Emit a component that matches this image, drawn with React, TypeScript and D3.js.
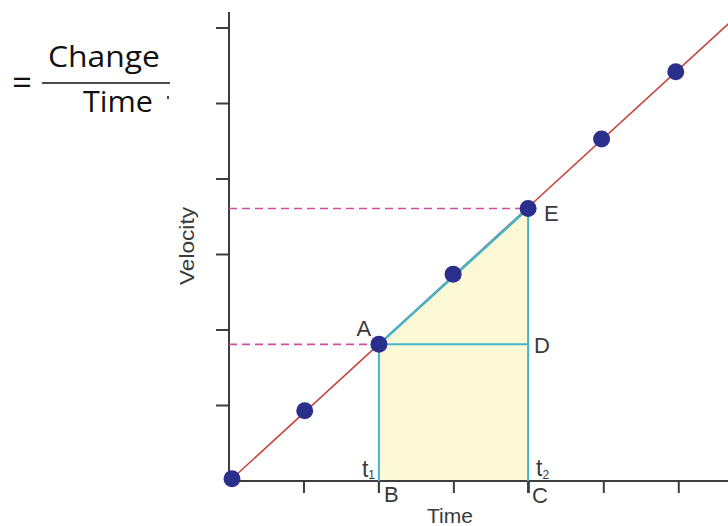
import React from "react";
import * as d3 from "d3";

// ---- data ----
const pointTimes = [0.04, 1.01, 2.0, 2.99, 3.99, 4.97, 5.96];
const pointVelocities = [0.03, 0.93, 1.81, 2.74, 3.61, 4.53, 5.42];
const lineTimes = [0.04, 6.72];
const lineVelocities = [0.03, 6.11];
const xTicks = [1, 2, 3, 4, 5, 6];
const yTicks = [1, 2, 3, 4, 5, 6];
const t1 = 2.0;
const t2 = 3.99;
const vA = 1.81;
const vE = 3.61;
const pointLabels = ["A", "E", "D", "B", "C"];
const axisTitles = ["Time", "Velocity"];
const formulaTexts = ["=", "Change", "Time"];

const W = 728;
const H = 526;

export default function App() {
  const x = d3.scaleLinear().domain([0, 6.67]).range([229, 729]);
  const y = d3.scaleLinear().domain([0, 6.2]).range([481, 481 - 6.2 * 75.5]);

  const pts = pointTimes.map((t, i) => ({ t, v: pointVelocities[i] }));
  const lineData = lineTimes.map((t, i) => ({ t, v: lineVelocities[i] }));
  const lineGen = d3
    .line<{ t: number; v: number }>()
    .x((d) => x(d.t))
    .y((d) => y(d.v));

  const areaPoly = [
    { t: t1, v: 0 },
    { t: t1, v: vA },
    { t: t2, v: vE },
    { t: t2, v: 0 },
  ];
  const polyGen = d3
    .line<{ t: number; v: number }>()
    .x((d) => x(d.t))
    .y((d) => y(d.v))
    .curve(d3.curveLinearClosed);

  const axisColor = "#3d3d3d";
  const cyan = "#45b4c8";
  const magenta = "#cf4f9e";
  const red = "#c4463e";
  const dot = "#2b2f8c";
  const fill = "#fdf9d7";
  const labelColor = "#3a3a3a";
  const sans = "'Liberation Sans', Arial, sans-serif";
  const formulaFont = "'Open Sans', 'Noto Sans', sans-serif";

  return (
    <svg
      width={W}
      height={H}
      style={{ position: "absolute", left: 0, top: 0, background: "#fff" }}
    >
      <defs>
        <clipPath id="plotClip">
          <rect x={0} y={0} width={W} height={H} />
        </clipPath>
      </defs>

      {/* formula fragment */}
      <text x={22} y={95} fontFamily={formulaFont} fontSize={34} textAnchor="middle" fill="#111" textLength={20} lengthAdjust="spacingAndGlyphs">
        {formulaTexts[0]}
      </text>
      <text x={48} y={67} fontFamily={formulaFont} fontSize={29} fill="#111" textLength={112} lengthAdjust="spacingAndGlyphs">
        {formulaTexts[1]}
      </text>
      <line x1={42} x2={170} y1={83} y2={83} stroke="#111" strokeWidth={1.6} />
      <text x={83} y={112} fontFamily={formulaFont} fontSize={29} fill="#111" textLength={70} lengthAdjust="spacingAndGlyphs">
        {formulaTexts[2]}
      </text>
      <rect x={167} y={96} width={2} height={3} fill="#444" />

      {/* filled region */}
      <path d={polyGen(areaPoly) || ""} fill={fill} stroke="none" />

      {/* axes */}
      <line x1={x(0)} x2={x(0)} y1={12} y2={y(0) + 1} stroke={axisColor} strokeWidth={2} />
      <line x1={x(0)} x2={W} y1={y(0)} y2={y(0)} stroke={axisColor} strokeWidth={2} />
      {yTicks.map((v) => (
        <line key={"yt" + v} x1={x(0) - 13} x2={x(0)} y1={y(v)} y2={y(v)} stroke={axisColor} strokeWidth={2} />
      ))}
      {xTicks.map((t) => (
        <line key={"xt" + t} x1={x(t)} x2={x(t)} y1={y(0)} y2={y(0) + 12} stroke={axisColor} strokeWidth={2} />
      ))}

      {/* dashed projections */}
      <line x1={x(0)} x2={x(t1)} y1={y(vA)} y2={y(vA)} stroke={magenta} strokeWidth={1.6} strokeDasharray="8,5" />
      <line x1={x(0)} x2={x(t2)} y1={y(vE)} y2={y(vE)} stroke={magenta} strokeWidth={1.6} strokeDasharray="8,5" />

      {/* red velocity line */}
      <path d={lineGen(lineData) || ""} fill="none" stroke={red} strokeWidth={1.6} clipPath="url(#plotClip)" />

      {/* cyan construction lines */}
      <line x1={x(t1)} x2={x(t2)} y1={y(vA)} y2={y(vE)} stroke={cyan} strokeWidth={2.6} />
      <line x1={x(t1)} x2={x(t2)} y1={y(vA)} y2={y(vA)} stroke={cyan} strokeWidth={2} />
      <line x1={x(t1)} x2={x(t1)} y1={y(vA)} y2={y(0) + 11} stroke={cyan} strokeWidth={2} />
      <line x1={x(t2)} x2={x(t2)} y1={y(vE)} y2={y(0) + 11} stroke={cyan} strokeWidth={2} />
      <line x1={x(t1)} x2={x(t1)} y1={y(0)} y2={y(0) + 12} stroke={axisColor} strokeWidth={2} />
      <line x1={x(t2)} x2={x(t2)} y1={y(0)} y2={y(0) + 12} stroke={axisColor} strokeWidth={2} />

      {/* points */}
      {pts.map((p, i) => (
        <circle key={"p" + i} cx={x(p.t)} cy={y(p.v)} r={8.5} fill={dot} />
      ))}

      {/* point labels */}
      <text x={x(t1) - 15} y={y(vA) - 8} fontFamily={sans} fontSize={22} fill={labelColor} textAnchor="middle">
        {pointLabels[0]}
      </text>
      <text x={x(t2) + 16} y={y(vE) + 13} fontFamily={sans} fontSize={22} fill={labelColor}>
        {pointLabels[1]}
      </text>
      <text x={x(t2) + 6} y={y(vA) + 9} fontFamily={sans} fontSize={22} fill={labelColor}>
        {pointLabels[2]}
      </text>
      <text x={x(t1) + 5} y={y(0) + 21} fontFamily={sans} fontSize={22} fill={labelColor}>
        {pointLabels[3]}
      </text>
      <text x={x(t2) + 4} y={y(0) + 22} fontFamily={sans} fontSize={22} fill={labelColor}>
        {pointLabels[4]}
      </text>

      {/* t1, t2 */}
      <text x={x(t1) - 17} y={y(0) - 4} fontFamily={sans} fontSize={23} fill={labelColor}>
        t<tspan fontSize={12} dy={2}>1</tspan>
      </text>
      <text x={x(t2) + 8} y={y(0) - 5} fontFamily={sans} fontSize={23} fill={labelColor}>
        t<tspan fontSize={12} dy={3}>2</tspan>
      </text>

      {/* axis titles */}
      <text x={450} y={523} fontFamily={sans} fontSize={21} fill={labelColor} textAnchor="middle">
        {axisTitles[0]}
      </text>
      <text
        transform={`translate(194,246) rotate(-90)`}
        fontFamily={sans}
        fontSize={21}
        fill={labelColor}
        textAnchor="middle"
        textLength={78}
        lengthAdjust="spacingAndGlyphs"
      >
        {axisTitles[1]}
      </text>
    </svg>
  );
}
